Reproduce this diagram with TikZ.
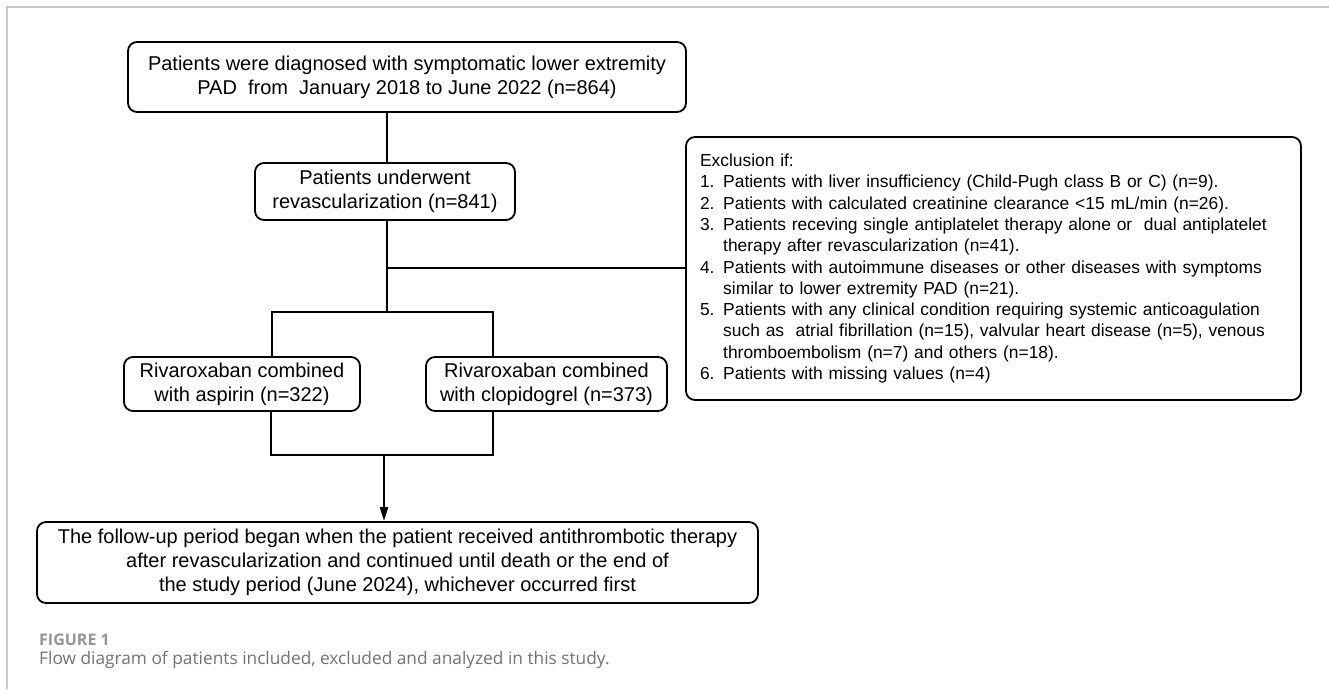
\documentclass[tikz,border=0pt]{standalone}
\usepackage{fontspec}
\setmainfont{Liberation Sans}
\newfontfamily\capfont{Open Sans}
\usetikzlibrary{arrows.meta}
\begin{document}
\begin{tikzpicture}[x=1pt,y=-1pt,
  box/.style={draw, line width=1.8pt, rounded corners=9pt, align=center,
    font=\fontsize{20}{24}\selectfont, inner sep=0pt},
  conn/.style={line width=2.2pt},
  arr/.style={conn, -{Triangle[length=14pt,width=8pt]}},
]
\useasboundingbox (0,0) rectangle (1329,689);
\fill[white] (0,0) rectangle (1329,689);
\draw[black!22, line width=1.4pt] (7,689) -- (7,7) -- (1329,7);

\node[box, minimum width=558pt, minimum height=70pt] (top) at (407,77)
  {Patients were diagnosed with symptomatic lower extremity\\PAD\ \ from\ \ January 2018 to June 2022 (n=864)};
\node[box, minimum width=260pt, minimum height=57pt] (rev) at (385,191.5)
  {Patients underwent\\revascularization (n=841)};
\node[box, minimum width=236pt, minimum height=54pt] (asp) at (242,384)
  {Rivaroxaban combined\\with aspirin (n=322)};
\node[box, minimum width=241pt, minimum height=54pt] (clo) at (546.5,384)
  {Rivaroxaban combined\\with clopidogrel (n=373)};
\node[box, minimum width=615pt, minimum height=263pt, align=left,
  font=\fontsize{17.4}{21.3}\selectfont, text width=587pt] (excl) at (993.5,268.5)
  {Exclusion if:\\
   1. Patients with liver insufficiency (Child-Pugh class B or C) (n=9).\\
   2. Patients with calculated creatinine clearance <15 mL/min (n=26).\\
   3. Patients receving single antiplatelet therapy alone or\ \ dual antiplatelet\\
   \phantom{3. }therapy after revascularization (n=41).\\
   4. Patients with autoimmune diseases or other diseases with symptoms\\
   \phantom{4. }similar to lower extremity PAD (n=21).\\
   5. Patients with any clinical condition requiring systemic anticoagulation\\
   \phantom{5. }such as\ \ atrial fibrillation (n=15), valvular heart disease (n=5), venous\\
   \phantom{5. }thromboembolism (n=7) and others (n=18).\\
   6. Patients with missing values (n=4)};
\node[box, minimum width=721pt, minimum height=81pt] (fin) at (397.5,562.5)
  {The follow-up period began when the patient received antithrombotic therapy\\
   after revascularization and continued until death or the end of\\
   the study period (June 2024), whichever occurred first};

\coordinate (mx) at (387,268);
\coordinate (sc) at (387,312);
\coordinate (sl) at (272,312);
\coordinate (sr) at (493,312);
\coordinate (jl) at (271,455);
\coordinate (jr) at (493,455);
\coordinate (jc) at (384,455);

\draw[conn] (top.south -| mx) -- (rev.north -| mx);
\draw[conn] (rev.south -| mx) -- (sc);
\draw[conn] (mx) -- (mx -| excl.west);
\draw[conn] (sl |- asp.north) -- (sl) -- (sr) -- (sr |- clo.north);
\draw[conn] (asp.south -| jl) -- (jl) -- (jr) -- (clo.south -| jr);
\draw[arr] (jc) -- (fin.north -| jc);

\node[anchor=base west, text=black!42, inner sep=0pt, font=\capfont\fontsize{16}{18}\selectfont\bfseries] (fig) at (39,645) {FIGURE 1};
\node[anchor=base west, text=black!55, inner sep=0pt, font=\capfont\fontsize{17.3}{20}\selectfont] (cap) at (39,664)
  {Flow diagram of patients included, excluded and analyzed in this study.};
\end{tikzpicture}
\end{document}
